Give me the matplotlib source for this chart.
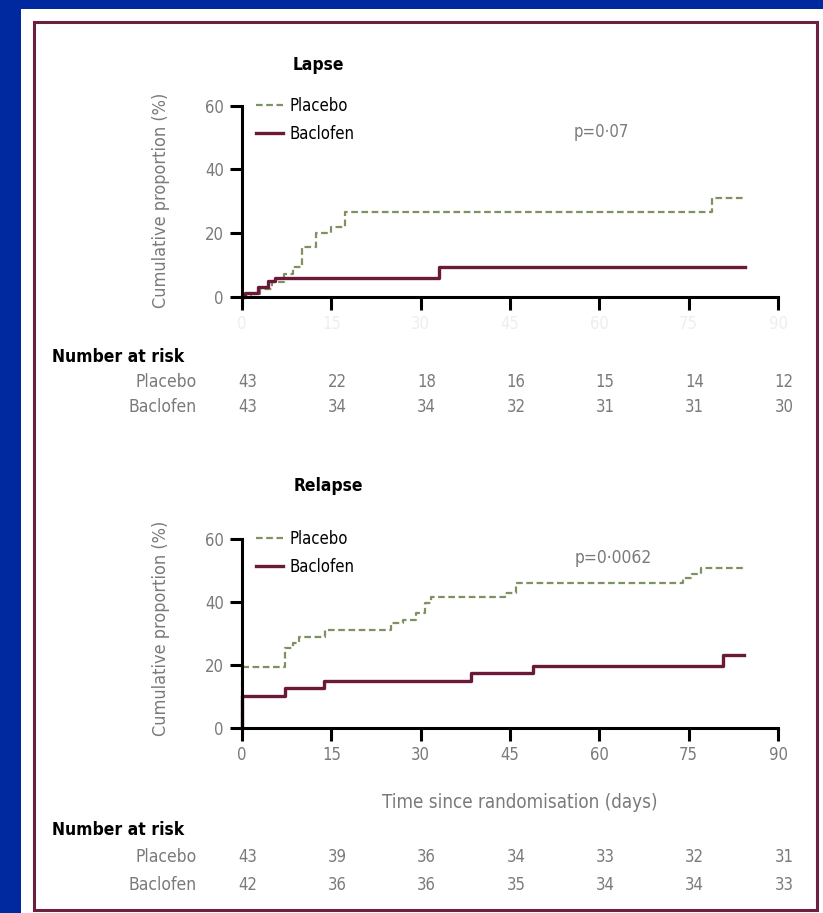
import matplotlib
matplotlib.use("Agg")
import matplotlib.pyplot as plt
from matplotlib.patches import Rectangle
from matplotlib.transforms import blended_transform_factory

plt.rcParams['font.family'] = ['DejaVu Sans']
plt.rcParams['font.stretch'] = 'condensed'

# ---- data ----
days = [0, 15, 30, 45, 60, 75, 90]
yticks = [0, 20, 40, 60]

lapse_pla_t = [0, 1.5, 3, 5, 7, 8.5, 10, 12.5, 15, 17.3, 79, 84.5]
lapse_pla_y = [0, 1, 2.3, 4.7, 7, 9.3, 15.6, 20, 22, 26.6, 31, 31]
lapse_bac_t = [0, 0.5, 2.7, 4.4, 5.5, 33, 84.5]
lapse_bac_y = [0, 1.2, 3, 5, 6, 9.2, 9.2]

rel_pla_t = [0, 0, 7.2, 8.5, 9.5, 14, 25, 27, 29.3, 30.7, 31.8, 44.2, 46, 74, 75.5, 77, 84.7]
rel_pla_y = [0, 19.5, 25.4, 27, 29, 31.2, 33.5, 34.3, 36.4, 39.7, 41.7, 43, 45.9, 47.5, 49, 50.7, 50.7]
rel_bac_t = [0, 0, 7.3, 13.7, 38.5, 48.8, 80.8, 84.3]
rel_bac_y = [0, 10.2, 12.7, 15, 17.4, 19.7, 23.2, 23.2]

lapse_risk_pla = [43, 22, 18, 16, 15, 14, 12]
lapse_risk_bac = [43, 34, 34, 32, 31, 31, 30]
rel_risk_pla = [43, 39, 36, 34, 33, 32, 31]
rel_risk_bac = [42, 36, 36, 35, 34, 34, 33]

W, H = 823, 913
PLA = '#7f9160'
BAC = '#6a1a38'
GRAY = '#7a7a7a'

fig = plt.figure(figsize=(W / 100, H / 100), dpi=100)
fig.patch.set_facecolor('#0029a0')


def fx(px):
    return px / W


def fy(py):
    return 1 - py / H


# white panel + maroon frame
fig.patches.append(Rectangle((fx(21), 0), 1 - fx(21), fy(9), transform=fig.transFigure,
                             facecolor='white', edgecolor='none', zorder=-10))
fig.patches.append(Rectangle((fx(34), fy(910)), fx(817) - fx(34), fy(22) - fy(910),
                             transform=fig.transFigure, facecolor='none',
                             edgecolor='#6b2040', linewidth=2.2, zorder=-9))


def panel(top_px, bot_px, pla_t, pla_y, bac_t, bac_y, xlabel_color):
    ax = fig.add_axes([fx(242), fy(bot_px), fx(778) - fx(242), (bot_px - top_px) / H])
    ax.set_facecolor('none')
    ax.step(pla_t, pla_y, where='post', color=PLA, linestyle=(0, (3, 1.6)),
            linewidth=1.6, label='Placebo', clip_on=False)
    ax.step(bac_t, bac_y, where='post', color=BAC, linewidth=2.4,
            label='Baclofen', clip_on=False)
    ax.set_xlim(0, 90)
    ax.set_ylim(0, 60)
    ax.set_xticks(days)
    ax.set_yticks(yticks)
    for s in ['top', 'right']:
        ax.spines[s].set_visible(False)
    for s in ['left', 'bottom']:
        ax.spines[s].set_linewidth(2.2)
    ax.tick_params(axis='both', direction='out', length=9, width=2.2,
                   labelsize=12, labelcolor=GRAY, pad=4)
    ax.tick_params(axis='x', labelcolor=xlabel_color)
    ax.legend(loc='upper left', bbox_to_anchor=(fx(256), fy(top_px - 9)),
              bbox_transform=fig.transFigure, frameon=False, fontsize=12,
              handlelength=1.6, handletextpad=0.4, labelspacing=0.6,
              borderpad=0, borderaxespad=0)
    return ax


ax1 = panel(105.7, 296.7, lapse_pla_t, lapse_pla_y, lapse_bac_t, lapse_bac_y, '#eeeeee')
ax2 = panel(539, 728.3, rel_pla_t, rel_pla_y, rel_bac_t, rel_bac_y, GRAY)

fig.text(fx(318), fy(65), 'Lapse', ha='center', va='center', fontsize=12.5, fontweight='bold')
fig.text(fx(328), fy(486), 'Relapse', ha='center', va='center', fontsize=12.5, fontweight='bold')
fig.text(fx(601), fy(132), 'p=0·07', ha='center', va='center', fontsize=12, color=GRAY)
fig.text(fx(613), fy(558), 'p=0·0062', ha='center', va='center', fontsize=12.5, color=GRAY)

for yc in [200, 628]:
    fig.text(fx(161), fy(yc), 'Cumulative proportion (%)', rotation=90,
             ha='center', va='center', fontsize=13, color=GRAY)
fig.text(fx(520), fy(803), 'Time since randomisation (days)', ha='center',
         va='center', fontsize=13.5, color=GRAY)


def risk_table(ax, y_head, y_pla, y_bac, pla, bac):
    tr = blended_transform_factory(ax.transData, fig.transFigure)
    fig.text(fx(52), fy(y_head), 'Number at risk', ha='left', va='center',
             fontsize=12.5, fontweight='bold')
    fig.text(fx(197), fy(y_pla), 'Placebo', ha='right', va='center', fontsize=12.5, color=GRAY)
    fig.text(fx(197), fy(y_bac), 'Baclofen', ha='right', va='center', fontsize=12.5, color=GRAY)
    for d, p, b in zip(days, pla, bac):
        ax.text(d + 1, fy(y_pla), str(p), transform=tr, ha='center', va='center',
                fontsize=12, color=GRAY, clip_on=False)
        ax.text(d + 1, fy(y_bac), str(b), transform=tr, ha='center', va='center',
                fontsize=12, color=GRAY, clip_on=False)


risk_table(ax1, 357, 382, 407, lapse_risk_pla, lapse_risk_bac)
risk_table(ax2, 830, 857, 885, rel_risk_pla, rel_risk_bac)

fig.savefig('out.png', dpi=100, facecolor=fig.get_facecolor())
